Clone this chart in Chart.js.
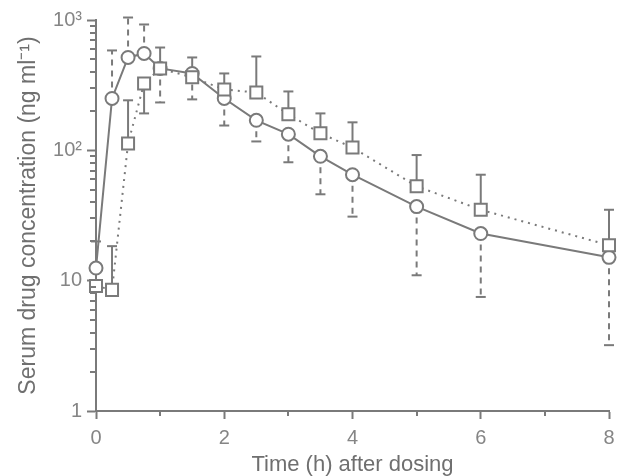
<!DOCTYPE html>
<html>
<head>
<meta charset="utf-8">
<script src="https://cdn.jsdelivr.net/npm/chart.js@4/dist/chart.umd.min.js"></script>
<style>
  html, body { margin: 0; padding: 0; background: #fff; }
  canvas { display: block; }
</style>
</head>
<body>
<canvas id="chart" width="626" height="476"></canvas>
<script>
// sampling times (h)
const times = [0, 0.25, 0.5, 0.75, 1, 1.5, 2, 2.5, 3, 3.5, 4, 5, 6, 8]
// circles, solid line (ng/ml)
const circleValues = [12.5, 250, 516, 554, 425, 389, 250, 170, 133, 90, 65, 37, 23, 15.1]
// end of the dashed error bar for circles
const circleErrEnd = [null, 584, 1045, 924, 233, 246, 155, 117, 81, 46, 31, 11, 7.5, 3.2]
// squares, dotted line (ng/ml)
const squareValues = [9.1, 8.5, 113, 326, 425, 363, 293, 278, 189, 135, 105, 53, 35, 18.7]
// end of the solid error bar for squares
const squareErrEnd = [20, 18.4, 242, 192, 615, 516, 389, 525, 283, 192, 164, 92, 65, 35]

const xTicks = [0, 1, 2, 3, 4, 5, 6, 7, 8]
const yTicks = [1, 2, 3, 4, 5, 6, 7, 8, 9, 10, 20, 30, 40, 50, 60, 70, 80, 90,
  100, 200, 300, 400, 500, 600, 700, 800, 900, 1000]
const yLabels = { 1: '1', 10: '10', 100: '10²', 1000: '10³' }

const ink = '#7a7a7a'
const textInk = '#858585'
const font = 'Liberation Sans, Arial, sans-serif'

const isPow10 = v => Math.abs(Math.log10(v) - Math.round(Math.log10(v))) < 1e-9

// error bars + minor ticks
const extras = {
  id: 'extras',
  beforeDatasetsDraw(chart) {
    const { ctx, scales: { x, y } } = chart
    const bars = [
      { vals: circleValues, ends: circleErrEnd, dash: [6, 5] },
      { vals: squareValues, ends: squareErrEnd, dash: [] }
    ]
    ctx.save()
    ctx.strokeStyle = ink
    ctx.lineWidth = 2
    bars.forEach(b => {
      times.forEach((t, i) => {
        if (b.ends[i] == null) return
        const px = x.getPixelForValue(t)
        const y0 = y.getPixelForValue(b.vals[i])
        const y1 = y.getPixelForValue(b.ends[i])
        ctx.setLineDash(b.dash)
        ctx.beginPath()
        ctx.moveTo(px, y0)
        ctx.lineTo(px, y1)
        ctx.stroke()
        ctx.setLineDash([])
        ctx.beginPath()
        ctx.moveTo(px - 5, y1)
        ctx.lineTo(px + 5, y1)
        ctx.stroke()
      })
    })
    ctx.restore()
  },
  afterDraw(chart) {
    const { ctx, scales: { x, y }, chartArea } = chart
    ctx.save()
    ctx.strokeStyle = ink
    ctx.lineWidth = 2
    yTicks.filter(v => !isPow10(v)).forEach(v => {
      const py = Math.round(y.getPixelForValue(v))
      ctx.beginPath()
      ctx.moveTo(chartArea.left - 6, py)
      ctx.lineTo(chartArea.left, py)
      ctx.stroke()
    })
    xTicks.filter(v => v % 2 === 1).forEach(v => {
      const px = Math.round(x.getPixelForValue(v))
      ctx.beginPath()
      ctx.moveTo(px, chartArea.bottom)
      ctx.lineTo(px, chartArea.bottom + 5)
      ctx.stroke()
    })
    ctx.restore()
  }
}

new Chart(document.getElementById('chart'), {
  type: 'line',
  data: {
    datasets: [
      {
        label: 'squares',
        data: times.map((t, i) => ({ x: t, y: squareValues[i] })),
        borderColor: ink,
        borderWidth: 2,
        borderDash: [2, 5],
        pointStyle: 'rect',
        pointRadius: 8.5,
        pointBorderWidth: 2,
        pointBorderColor: ink,
        pointBackgroundColor: '#fff',
        tension: 0,
        clip: false,
        order: 0
      },
      {
        label: 'circles',
        data: times.map((t, i) => ({ x: t, y: circleValues[i] })),
        borderColor: ink,
        borderWidth: 2,
        pointStyle: 'circle',
        pointRadius: 6.5,
        pointBorderWidth: 2,
        pointBorderColor: ink,
        pointBackgroundColor: '#fff',
        tension: 0,
        clip: false,
        order: 1
      }
    ]
  },
  options: {
    responsive: false,
    animation: false,
    layout: { padding: { top: 20, right: 17, left: 0, bottom: 0 } },
    plugins: { legend: { display: false }, tooltip: { enabled: false } },
    scales: {
      x: {
        type: 'linear',
        min: 0,
        max: 8,
        afterBuildTicks: s => { s.ticks = xTicks.map(v => ({ value: v })) },
        afterFit: s => { s.height = 65 },
        border: { color: ink, width: 2 },
        grid: {
          drawOnChartArea: false,
          tickLength: 8,
          tickWidth: 2,
          tickColor: c => (c.tick && c.tick.value % 2 === 0) ? ink : 'rgba(0,0,0,0)'
        },
        ticks: {
          autoSkip: false,
          maxRotation: 0,
          padding: 7,
          color: textInk,
          font: { family: font, size: 20 },
          callback: v => (v % 2 === 0 ? String(v) : '')
        },
        title: {
          display: true,
          text: 'Time (h) after dosing',
          color: '#6f6f6f',
          font: { family: font, size: 22, lineHeight: 1 },
          padding: { top: 0, bottom: 0 }
        }
      },
      y: {
        type: 'logarithmic',
        min: 1,
        max: 1000,
        afterBuildTicks: s => { s.ticks = yTicks.map(v => ({ value: v })) },
        afterFit: s => { s.width = 96 },
        border: { color: ink, width: 2 },
        grid: {
          drawOnChartArea: false,
          tickLength: 9,
          tickWidth: 2,
          tickColor: c => (c.tick && isPow10(c.tick.value)) ? ink : 'rgba(0,0,0,0)'
        },
        ticks: {
          autoSkip: false,
          padding: 5,
          color: textInk,
          font: { family: font, size: 20 },
          callback: v => yLabels[v] || ''
        },
        title: {
          display: true,
          text: 'Serum drug concentration (ng ml⁻¹)',
          color: '#6f6f6f',
          font: { family: font, size: 23, lineHeight: 1 },
          padding: { top: 17, bottom: 0 }
        }
      }
    }
  },
  plugins: [extras]
})
</script>
</body>
</html>
